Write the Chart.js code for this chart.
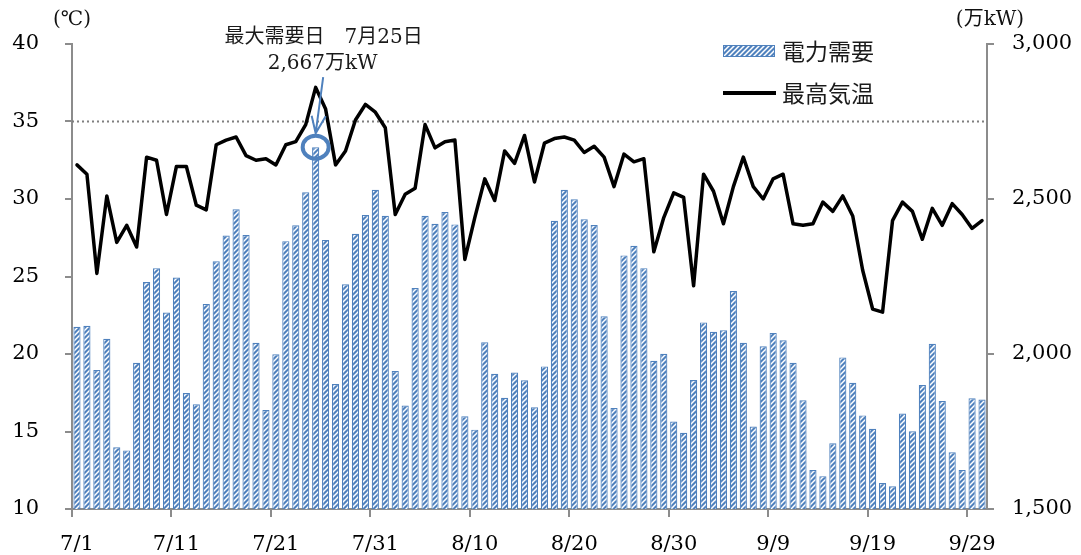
<!DOCTYPE html>
<html><head><meta charset="utf-8">
<script src="https://cdn.jsdelivr.net/npm/chart.js@4"></script>
<style>html,body{margin:0;padding:0;background:#fff}#wrap{width:1081px;height:555px}</style>
</head><body><div id="wrap"><canvas id="c" width="1081" height="555"></canvas></div>
<script>
const dates = ['7/1','7/2','7/3','7/4','7/5','7/6','7/7','7/8','7/9','7/10','7/11','7/12','7/13','7/14','7/15','7/16','7/17','7/18','7/19','7/20','7/21','7/22','7/23','7/24','7/25','7/26','7/27','7/28','7/29','7/30','7/31',
'8/1','8/2','8/3','8/4','8/5','8/6','8/7','8/8','8/9','8/10','8/11','8/12','8/13','8/14','8/15','8/16','8/17','8/18','8/19','8/20','8/21','8/22','8/23','8/24','8/25','8/26','8/27','8/28','8/29','8/30','8/31',
'9/1','9/2','9/3','9/4','9/5','9/6','9/7','9/8','9/9','9/10','9/11','9/12','9/13','9/14','9/15','9/16','9/17','9/18','9/19','9/20','9/21','9/22','9/23','9/24','9/25','9/26','9/27','9/28','9/29','9/30'];
const shownDates = ['7/1','7/11','7/21','7/31','8/10','8/20','8/30','9/9','9/19','9/29'];
// 電力需要 (万kW)
const demand = [2088,2091,1948,2049,1699,1689,1972,2232,2277,2134,
 2247,1874,1838,2161,2299,2382,2467,2384,2036,1819,
 1999,2364,2415,2522,2667,2368,1903,2225,2388,2448,
 2530,2446,1945,1834,2213,2446,2420,2458,2418,1799,
 1756,2038,1936,1859,1940,1915,1828,1960,2430,2530,
 2499,2435,2416,2122,1826,2318,2349,2277,1978,2001,
 1782,1746,1916,2102,2072,2077,2203,2036,1766,2025,
 2068,2044,1972,1851,1626,1606,1712,1989,1907,1802,
 1759,1584,1573,1808,1751,1900,2033,1848,1683,1626,
 1857,1853];
// 最高気温 (℃)
const temp = [32.2,31.6,25.2,30.2,27.2,28.3,26.9,32.7,32.5,29.0,
 32.1,32.1,29.6,29.3,33.5,33.8,34.0,32.8,32.5,32.6,
 32.2,33.5,33.7,34.8,37.2,35.8,32.2,33.1,35.1,36.1,
 35.6,34.6,29.0,30.3,30.7,34.8,33.3,33.7,33.8,26.1,
 28.8,31.3,29.9,33.1,32.3,34.1,31.1,33.6,33.9,34.0,
 33.8,33.0,33.4,32.7,30.8,32.9,32.4,32.6,26.6,28.8,
 30.4,30.1,24.4,31.6,30.5,28.4,30.8,32.7,30.8,30.0,
 31.3,31.6,28.4,28.3,28.4,29.8,29.2,30.2,28.9,25.4,
 22.9,22.7,28.6,29.8,29.2,27.4,29.4,28.3,29.7,29.0,
 28.1,28.6];
const tempTicks = [10,15,20,25,30,35,40];
const demandTicks = [1500,2000,2500,3000];
const refTemp = 35;
const peakIndex = 24;
const peakValue = 2667;
const peakLine1 = '最大需要日\u30007月25日';
const peakLine2 = '2,667万kW';
const legendBar = '電力需要';
const legendLine = '最高気温';
const leftUnit = '(℃)';
const rightUnit = '(万kW)';

const BLUE = '#4f81bd';
const GRAY = '#8c8c8c';
const SERIF = "'DejaVu Serif', 'Noto Sans CJK JP', serif";
const JP = "'Noto Sans CJK JP', sans-serif";

function makePattern(){
  const s = 5;
  const c = document.createElement('canvas'); c.width = s; c.height = s;
  const g = c.getContext('2d');
  g.fillStyle = BLUE; g.fillRect(0,0,s,s);
  g.strokeStyle = '#ffffff'; g.lineWidth = 1.5;
  g.beginPath();
  g.moveTo(0,s); g.lineTo(s,0);
  g.moveTo(-1,1); g.lineTo(1,-1);
  g.moveTo(s-1,s+1); g.lineTo(s+1,s-1);
  g.stroke();
  return document.createElement('canvas').getContext('2d').createPattern(c,'repeat');
}
const hatch = makePattern();

const extras = {
  id: 'extras',
  beforeDatasetsDraw(chart){
    const {ctx, chartArea: a, scales: {y}} = chart;
    const yy = y.getPixelForValue(refTemp);
    ctx.save();
    ctx.strokeStyle = '#7f7f7f'; ctx.lineWidth = 2; ctx.setLineDash([2,3]);
    ctx.beginPath(); ctx.moveTo(a.left, yy); ctx.lineTo(a.right, yy); ctx.stroke();
    ctx.restore();
  },
  afterDraw(chart){
    const {ctx, chartArea: a, scales: {x, y1}} = chart;
    ctx.save();
    // unit labels
    ctx.fillStyle = '#111';
    ctx.font = '20px ' + SERIF;
    ctx.textAlign = 'center'; ctx.textBaseline = 'middle';
    ctx.fillText(leftUnit, a.left, 20);
    ctx.fillText(rightUnit, a.right + 3, 20);
    // legend
    const lx = 723;
    ctx.fillStyle = hatch;
    ctx.fillRect(lx, 45, 52, 12);
    ctx.strokeStyle = BLUE; ctx.lineWidth = 1;
    ctx.strokeRect(lx + 0.5, 45.5, 51, 11);
    ctx.strokeStyle = '#000'; ctx.lineWidth = 4;
    ctx.beginPath(); ctx.moveTo(lx, 93); ctx.lineTo(lx + 53, 93); ctx.stroke();
    ctx.fillStyle = '#1a1a1a';
    ctx.font = '23px ' + JP;
    ctx.textAlign = 'left'; ctx.textBaseline = 'middle';
    ctx.fillText(legendBar, 782, 51);
    ctx.fillText(legendLine, 782, 93);
    // peak annotation
    const bx = x.getPixelForValue(peakIndex);
    const by = y1.getPixelForValue(peakValue);
    ctx.strokeStyle = BLUE; ctx.lineWidth = 4;
    ctx.beginPath(); ctx.ellipse(bx, by, 13, 11.5, 0, 0, Math.PI*2); ctx.stroke();
    ctx.lineWidth = 2;
    const tipX = bx, tipY = by - 14;
    ctx.beginPath();
    ctx.moveTo(bx + 7.5, by - 70); ctx.lineTo(tipX, tipY);
    ctx.moveTo(tipX - 4, tipY - 17.5); ctx.lineTo(tipX, tipY); ctx.lineTo(tipX + 10, tipY - 17);
    ctx.stroke();
    ctx.fillStyle = '#1a1a1a';
    ctx.font = '20px ' + SERIF;
    ctx.textAlign = 'center';
    ctx.fillText(peakLine1, bx + 8, by - 109);
    ctx.fillText(peakLine2, bx + 7, by - 83);
    ctx.restore();
  }
};

new Chart(document.getElementById('c'), {
  type: 'bar',
  data: {
    labels: dates,
    datasets: [
      { type: 'line', label: legendLine, data: temp, yAxisID: 'y', order: 0,
        borderColor: '#000', borderWidth: 3.5, pointRadius: 0, tension: 0,
        borderJoinStyle: 'round', borderCapStyle: 'round', fill: false },
      { type: 'bar', label: legendBar, data: demand, yAxisID: 'y1', order: 1,
        backgroundColor: hatch, borderColor: BLUE, borderWidth: 1.2,
        barPercentage: 0.72, categoryPercentage: 1 }
    ]
  },
  options: {
    responsive: false, animation: false, devicePixelRatio: 1,
    layout: { padding: { top: 44, left: 0, right: 0, bottom: 0 } },
    plugins: { legend: { display: false }, tooltip: { enabled: false } },
    scales: {
      x: {
        offset: true,
        grid: { offset: true, drawOnChartArea: false, drawTicks: true, tickLength: 8, lineWidth: 2,
          color: (c) => shownDates.includes(dates[c.index]) ? GRAY : 'rgba(0,0,0,0)' },
        border: { display: true, color: GRAY, width: 2 },
        ticks: { autoSkip: false, maxRotation: 0, minRotation: 0, padding: 15, color: '#000',
          font: { family: SERIF, size: 21 },
          callback: (v, i) => shownDates.includes(dates[i]) ? dates[i] : '' },
        afterFit: (s) => { s.height = 46; }
      },
      y: {
        position: 'left', min: 10, max: 40,
        afterBuildTicks: (s) => { s.ticks = tempTicks.map(v => ({ value: v })); },
        grid: { drawOnChartArea: false, tickLength: 7, lineWidth: 2, color: GRAY },
        border: { display: true, color: GRAY, width: 2 },
        ticks: { padding: 26, color: '#000', font: { family: SERIF, size: 21 } },
        afterFit: (s) => { s.width = 72; }
      },
      y1: {
        position: 'right', min: 1500, max: 3000,
        afterBuildTicks: (s) => { s.ticks = demandTicks.map(v => ({ value: v })); },
        grid: { drawOnChartArea: false, tickLength: 7, lineWidth: 2, color: GRAY },
        border: { display: true, color: GRAY, width: 2 },
        ticks: { padding: 18, color: '#000', font: { family: SERIF, size: 21 },
          callback: (v) => v.toLocaleString('en-US') },
        afterFit: (s) => { s.width = 94; }
      }
    }
  },
  plugins: [extras]
});
</script></body></html>
